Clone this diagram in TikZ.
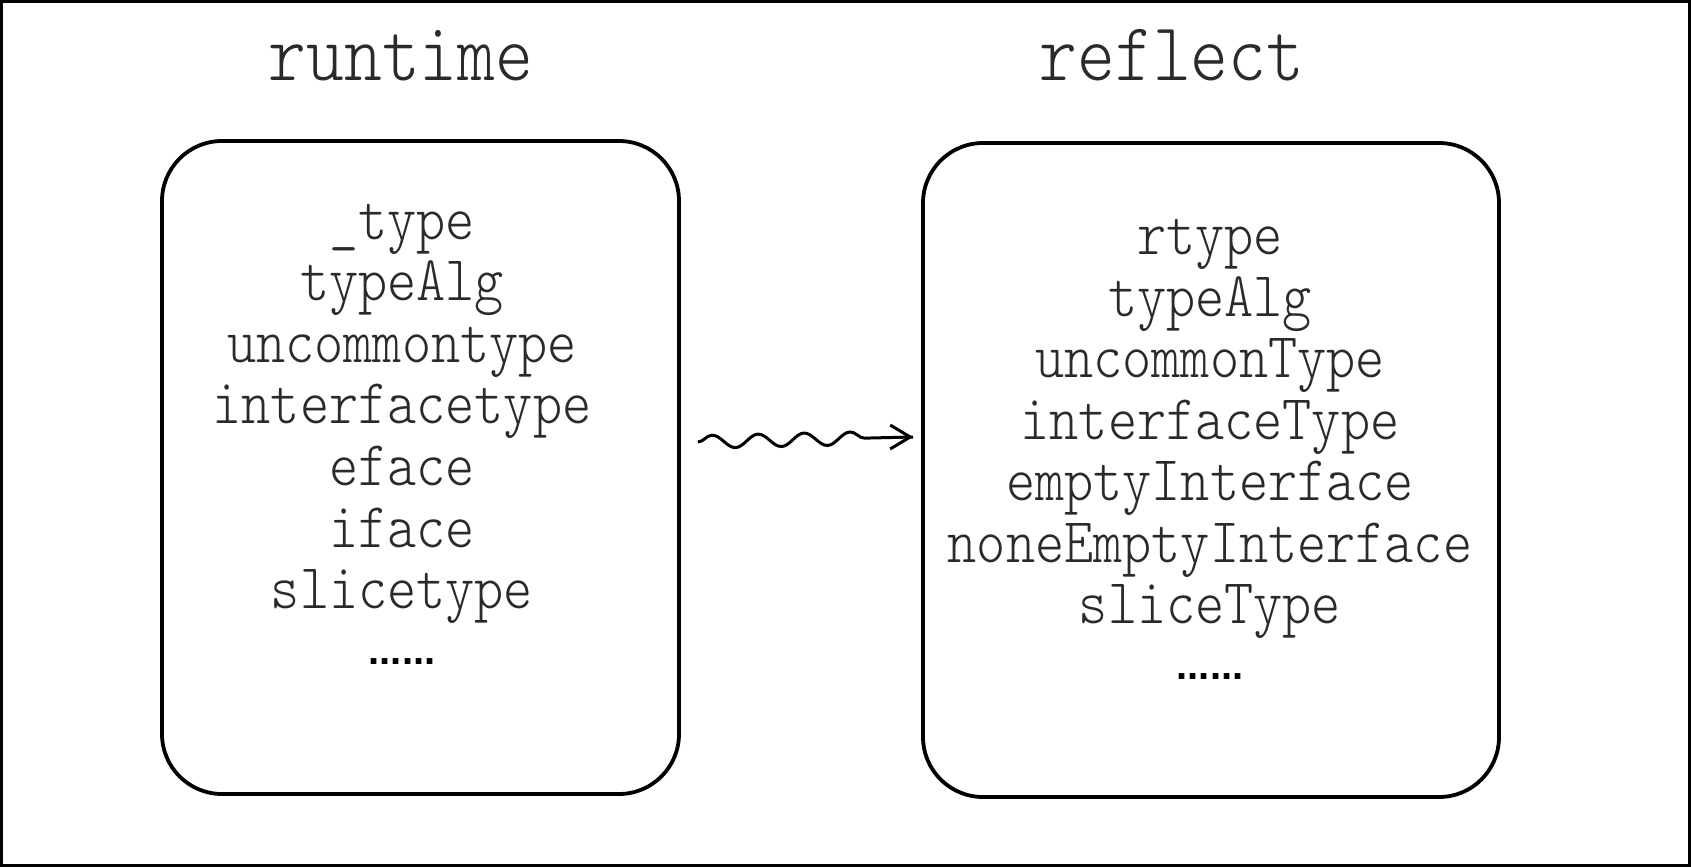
\documentclass[tikz,border=0pt]{standalone}
\usepackage{fontspec}
\setmonofont{Latin Modern Mono Light}
\newfontfamily\dotfont{Liberation Sans}
\usetikzlibrary{arrows.meta,decorations.pathmorphing}
\definecolor{ink}{HTML}{2A2A2A}
\newcommand\vstretch[1]{\scalebox{1}[1.15]{#1}}
\tikzset{
  panel/.style={draw=black, line width=3.8pt, rounded corners=60pt, inner sep=0pt, fill=white},
  item/.style={anchor=base, text=ink, inner sep=0pt, font=\fontsize{55.5}{58}\selectfont\ttfamily},
  title/.style={anchor=base, text=ink, inner sep=0pt, font=\fontsize{72}{74}\selectfont\ttfamily},
  dots/.style={anchor=center, text=black, inner sep=0pt, font=\fontsize{40}{40}\selectfont\dotfont\bfseries},
  wavy/.style={draw=black, line width=3pt, decorate,
    decoration={snake, amplitude=6.5pt, segment length=46pt, post length=34pt}},
}
\begin{document}
\begin{tikzpicture}[x=1pt,y=-1pt]
\fill[black] (0,0) rectangle (1691,867);
\fill[white] (3,3) rectangle (1688,864);
\useasboundingbox (0,0) rectangle (1691,867);

\node[title] (tl) at (401,81) {\vstretch{runtime}};
\node[title] (tr) at (1172,81) {\vstretch{reflect}};

\node[panel, minimum width=517pt, minimum height=653pt] (L) at (420.5,467.5) {};
\node[panel, minimum width=576pt, minimum height=654pt] (R) at (1211,470) {};

\node[item] (l1) at (402,239) {\vstretch{\_type}};
\node[item] (l2) at (402,300) {\vstretch{typeAlg}};
\node[item] (l3) at (402,362) {\vstretch{uncommontype}};
\node[item] (l4) at (402,423) {\vstretch{interfacetype}};
\node[item] (l5) at (402,485) {\vstretch{eface}};
\node[item] (l6) at (402,547) {\vstretch{iface}};
\node[item] (l7) at (402,608) {\vstretch{slicetype}};
\node[dots] (l8) at (402,662) {......};

\node[item] (r1) at (1210,254) {\vstretch{rtype}};
\node[item] (r2) at (1210,316) {\vstretch{typeAlg}};
\node[item] (r3) at (1210,377) {\vstretch{uncommonType}};
\node[item] (r4) at (1210,439) {\vstretch{interfaceType}};
\node[item] (r5) at (1210,500) {\vstretch{emptyInterface}};
\node[item] (r6) at (1210,562) {\vstretch{noneEmptyInterface}};
\node[item] (r7) at (1210,623) {\vstretch{sliceType}};
\node[dots] (r8) at (1210,677) {......};

\coordinate (as) at ([xshift=17pt, yshift=25.5pt]L.east);
\coordinate (ae) at ([xshift=-8pt, yshift=33pt]R.west);
\draw[wavy] (as) -- (ae);
\draw[black, line width=3pt, -{Straight Barb[length=20pt, width=24pt, line width=3pt]}] ([xshift=-4pt]ae) -- (ae);
\end{tikzpicture}
\end{document}
